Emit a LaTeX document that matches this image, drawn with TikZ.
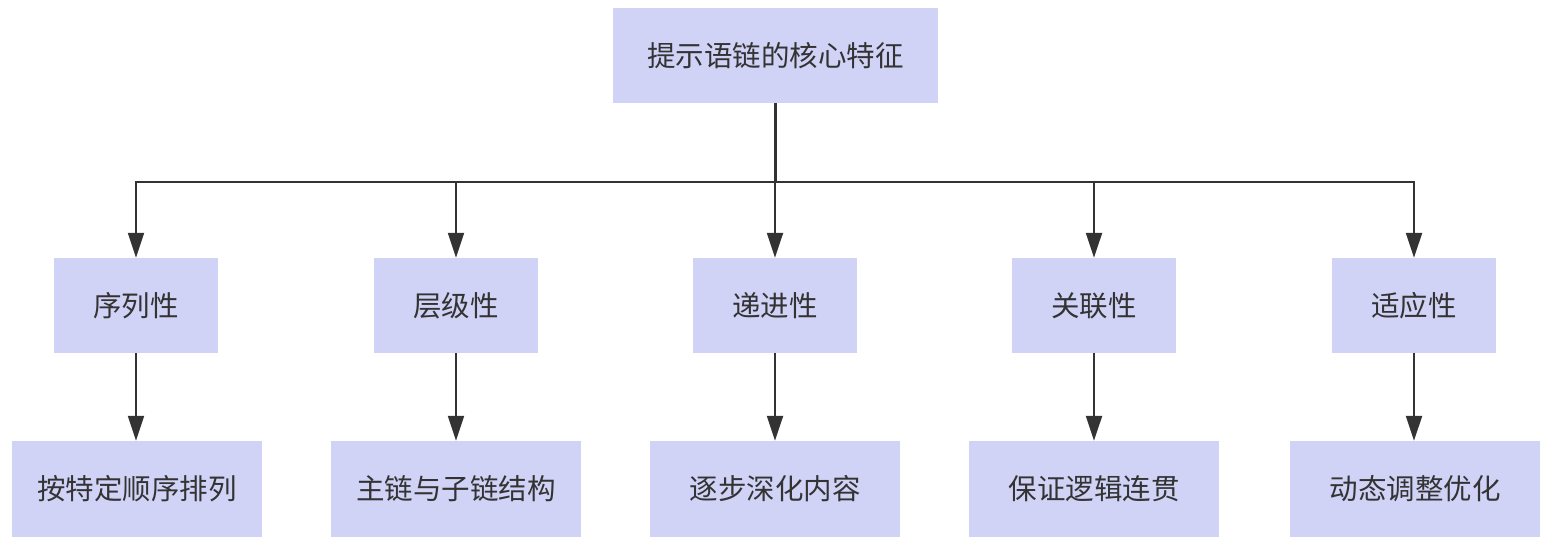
\documentclass[tikz,border=0pt]{standalone}
\usepackage{fontspec}
\newfontfamily\cjk{Noto Sans CJK SC}
\usetikzlibrary{arrows.meta}
\definecolor{boxfill}{RGB}{208,211,246}
\definecolor{ink}{RGB}{51,51,51}
\tikzset{
  box/.style={rectangle, fill=boxfill, draw=none, inner sep=0pt, text=ink,
    font=\cjk\fontsize{28.5}{34}\selectfont},
  topbox/.style={box, minimum width=325pt, minimum height=95pt},
  midbox/.style={box, minimum width=164pt, minimum height=95pt},
  botbox/.style={box, minimum width=250pt, minimum height=96pt},
  line/.style={draw=ink, line width=2.2pt},
  arr/.style={line, -{Triangle[width=16pt,length=25pt]}},
}
\begin{document}
\begin{tikzpicture}[x=1pt,y=-1pt]
\useasboundingbox (0,0) rectangle (1548,546);
\node[topbox] (top) at (775.5,55.5) {提示语链的核心特征};
\node[midbox] (m1) at (136,305.5) {序列性};
\node[midbox] (m2) at (456,305.5) {层级性};
\node[midbox] (m3) at (775,305.5) {递进性};
\node[midbox] (m4) at (1094,305.5) {关联性};
\node[midbox] (m5) at (1414,305.5) {适应性};
\node[botbox] (b1) at (137,489) {按特定顺序排列};
\node[botbox] (b2) at (456,489) {主链与子链结构};
\node[botbox] (b3) at (775,489) {逐步深化内容};
\node[botbox] (b4) at (1094,489) {保证逻辑连贯};
\node[botbox] (b5) at (1415,489) {动态调整优化};
\path (top.south) ++(0,79) coordinate (j);
\draw[line] (top.south) -- (j);
\foreach \m in {m1,m2,m3,m4,m5} {
  \draw[arr] (j) -| (\m.north);
}
\foreach \i in {1,...,5} {
  \draw[arr] (m\i.south) -- (m\i.south |- b\i.north);
}
\end{tikzpicture}
\end{document}
